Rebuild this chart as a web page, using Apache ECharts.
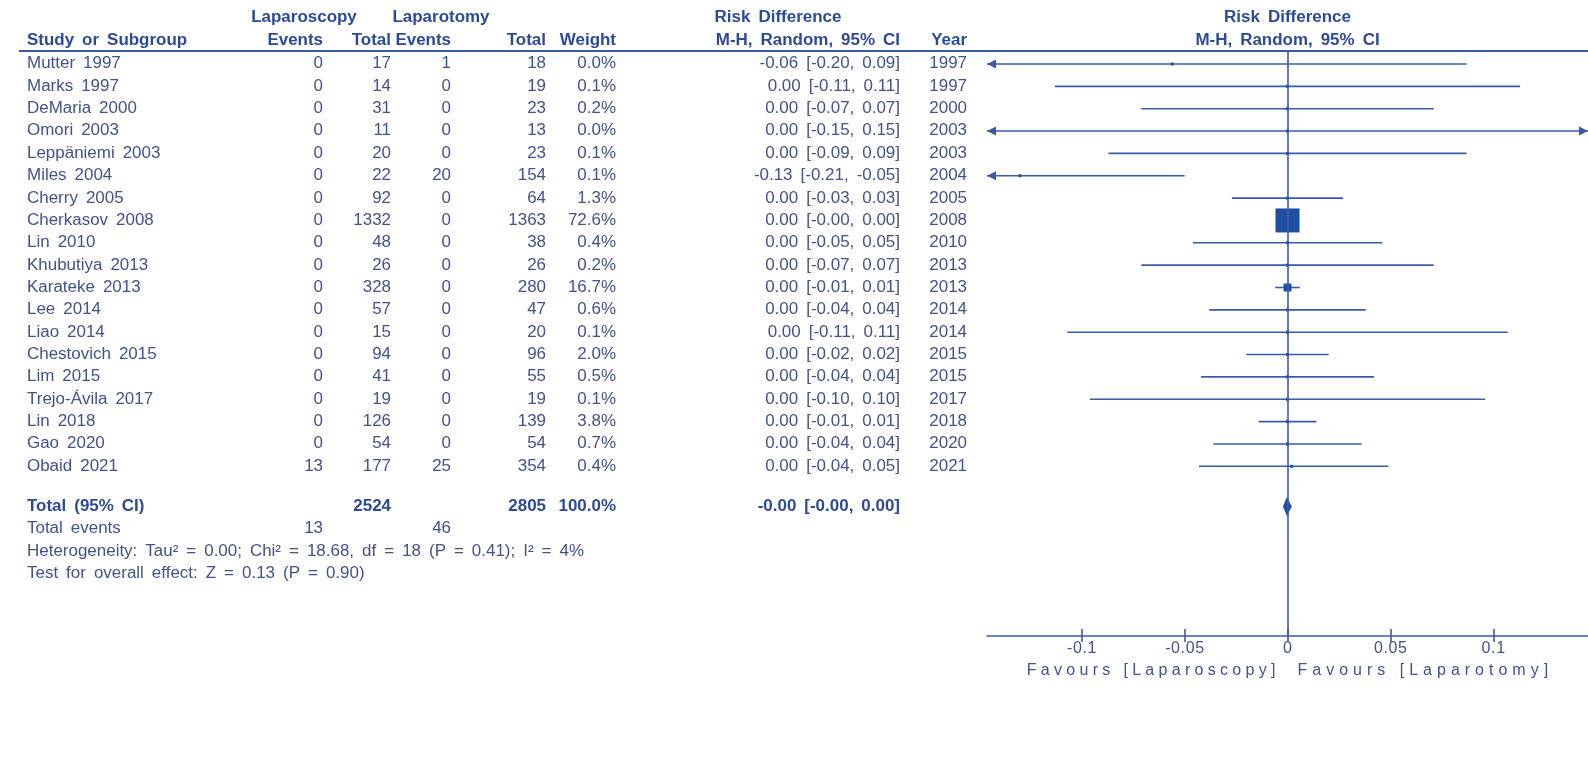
<!DOCTYPE html>
<html>
<head>
<meta charset="utf-8">
<script src="https://cdn.jsdelivr.net/npm/echarts@6/dist/echarts.min.js"></script>
<style>
  html, body { margin: 0; padding: 0; background: #ffffff; }
  #main { width: 1588px; height: 780px; }
</style>
</head>
<body>
<div id="main"></div>
<script>
// ---- Study data ----
const studies = ['Mutter 1997', 'Marks 1997', 'DeMaria 2000', 'Omori 2003', 'Leppäniemi 2003', 'Miles 2004',
  'Cherry 2005', 'Cherkasov 2008', 'Lin 2010', 'Khubutiya 2013', 'Karateke 2013', 'Lee 2014', 'Liao 2014',
  'Chestovich 2015', 'Lim 2015', 'Trejo-Ávila 2017', 'Lin 2018', 'Gao 2020', 'Obaid 2021'];
const years = [1997, 1997, 2000, 2003, 2003, 2004, 2005, 2008, 2010, 2013, 2013, 2014, 2014, 2015, 2015, 2017, 2018, 2020, 2021];
const lapEvents = [0, 0, 0, 0, 0, 0, 0, 0, 0, 0, 0, 0, 0, 0, 0, 0, 0, 0, 13];
const lapTotal = [17, 14, 31, 11, 20, 22, 92, 1332, 48, 26, 328, 57, 15, 94, 41, 19, 126, 54, 177];
const lapoEvents = [1, 0, 0, 0, 0, 20, 0, 0, 0, 0, 0, 0, 0, 0, 0, 0, 0, 0, 25];
const lapoTotal = [18, 19, 23, 13, 23, 154, 64, 1363, 38, 26, 280, 47, 20, 96, 55, 19, 139, 54, 354];
const weights = [0.0, 0.1, 0.2, 0.0, 0.1, 0.1, 1.3, 72.6, 0.4, 0.2, 16.7, 0.6, 0.1, 2.0, 0.5, 0.1, 3.8, 0.7, 0.4];
// risk difference and 95% CI bounds
const rd = [-0.056, 0, 0, 0, 0, -0.13, 0, 0, 0, 0, 0, 0, 0, 0, 0, 0, 0, 0, 0.002];
const rdLow = [-0.20, -0.113, -0.071, -0.15, -0.087, -0.21, -0.027, -0.002, -0.046, -0.071, -0.006, -0.038, -0.107, -0.02, -0.042, -0.096, -0.014, -0.036, -0.043];
const rdHigh = [0.087, 0.113, 0.071, 0.15, 0.087, -0.05, 0.027, 0.002, 0.046, 0.071, 0.006, 0.038, 0.107, 0.02, 0.042, 0.096, 0.014, 0.036, 0.049];

// ---- Pooled estimate ----
const pooled = { rd: -0.0003, low: -0.0022, high: 0.0021, weight: 100.0 };
const footnotes = [
  'Heterogeneity: Tau² = 0.00; Chi² = 18.68, df = 18 (P = 0.41); I² = 4%',
  'Test for overall effect: Z = 0.13 (P = 0.90)'
];

// ---- Axis ----
const tickValues = [-0.1, -0.05, 0, 0.05, 0.1];
const tickLabels = ['-0.1', '-0.05', '0', '0.05', '0.1'];
const favourLeft = 'Favours [Laparoscopy]';
const favourRight = 'Favours [Laparotomy]';

// ---- Layout ----
const W = 1588, H = 780;
const ROW0 = 64, ROW_H = 22.35;          // pixel y of first study row, row pitch
const PLOT_L = 987, PLOT_TOP = 51, AXIS_Y = 636;
const X_MIN = -0.146, X_MAX = 0.146;
const ROW = { head1: -2.08, head2: -1.04, rule: -0.58, total: 19.8, events: 20.8, het: 21.8, test: 22.8 };
const COL = { study: 27, lapEv: 323, lapTot: 391, lapoEv: 451, lapoTot: 546, weight: 616, ci: 900, year: 967,
  lapHead: 304, lapoHead: 441, rdHead: 778, plotMid: (PLOT_L + W) / 2 };

const FONT_FAMILY = '"Liberation Sans", Arial, sans-serif';
const FONT_SIZE = 16;
const TEXT_SX = 1.06;                      // slight horizontal stretch of the table type
const WORD_GAP = 8;                        // word spacing used in the table
const C_TEXT = '#42528c', C_BOLD = '#2c4a98', C_LINE = '#3a5aa8', C_MARK = '#1f4ea0';

const f2 = v => v.toFixed(2);
const ciText = (e, lo, hi) => `${f2(e)} [${f2(lo)}, ${f2(hi)}]`;
const sum = a => a.reduce((s, v) => s + v, 0);

// ---- Table cells ----
const cells = [];
function cell(text, x, row, align, bold) { cells.push({ text: String(text), x, row, align: align || 'right', bold: !!bold }); }

cell('Laparoscopy', COL.lapHead, ROW.head1, 'center', true);
cell('Laparotomy', COL.lapoHead, ROW.head1, 'center', true);
cell('Risk Difference', COL.rdHead, ROW.head1, 'center', true);
cell('Risk Difference', COL.plotMid, ROW.head1, 'center', true);
cell('Study or Subgroup', COL.study, ROW.head2, 'left', true);
cell('Events', COL.lapEv, ROW.head2, 'right', true);
cell('Total', COL.lapTot, ROW.head2, 'right', true);
cell('Events', COL.lapoEv, ROW.head2, 'right', true);
cell('Total', COL.lapoTot, ROW.head2, 'right', true);
cell('Weight', COL.weight, ROW.head2, 'right', true);
cell('M-H, Random, 95% CI', COL.ci, ROW.head2, 'right', true);
cell('Year', COL.year, ROW.head2, 'right', true);
cell('M-H, Random, 95% CI', COL.plotMid, ROW.head2, 'center', true);

studies.forEach((name, i) => {
  cell(name, COL.study, i, 'left');
  cell(lapEvents[i], COL.lapEv, i);
  cell(lapTotal[i], COL.lapTot, i);
  cell(lapoEvents[i], COL.lapoEv, i);
  cell(lapoTotal[i], COL.lapoTot, i);
  cell(weights[i].toFixed(1) + '%', COL.weight, i);
  cell(ciText(rd[i], rdLow[i], rdHigh[i]), COL.ci, i);
  cell(years[i], COL.year, i);
});

cell('Total (95% CI)', COL.study, ROW.total, 'left', true);
cell(sum(lapTotal), COL.lapTot, ROW.total, 'right', true);
cell(sum(lapoTotal), COL.lapoTot, ROW.total, 'right', true);
cell(pooled.weight.toFixed(1) + '%', COL.weight, ROW.total, 'right', true);
cell(ciText(pooled.rd, pooled.low, pooled.high), COL.ci, ROW.total, 'right', true);
cell('Total events', COL.study, ROW.events, 'left');
cell(sum(lapEvents), COL.lapEv, ROW.events);
cell(sum(lapoEvents), COL.lapoEv, ROW.events);
cell(footnotes[0], COL.study, ROW.het, 'left');
cell(footnotes[1], COL.study, ROW.test, 'left');

const font = bold => `${bold ? 'bold ' : ''}${FONT_SIZE}px ${FONT_FAMILY}`;
const measCtx = document.createElement('canvas').getContext('2d');

// lay out a run of pieces (words or letters) with a fixed gap between them
function runText(pieces, gap, sx, x, y, align, fnt, fill) {
  measCtx.font = fnt;
  const ws = pieces.map(s => measCtx.measureText(s).width * sx);
  const total = sum(ws) + gap * (pieces.length - 1);
  let cx = align === 'right' ? x - total : align === 'center' ? x - total / 2 : x;
  return pieces.map((s, i) => {
    const el = { type: 'text', x: cx, y, scaleX: sx,
      style: { text: s, font: fnt, fill, align: 'left', verticalAlign: 'middle' } };
    cx += ws[i] + gap;
    return el;
  });
}

const plotYMin = (PLOT_TOP - ROW0) / ROW_H;
const plotYMax = (AXIS_Y - ROW0) / ROW_H;

const forestData = studies.map((_, i) => [rd[i], i, rdLow[i], rdHigh[i], weights[i]]);

const chart = echarts.init(document.getElementById('main'), null, { renderer: 'canvas' });
chart.setOption({
  backgroundColor: '#ffffff',
  animation: false,
  grid: [
    { left: 0, top: 0, width: W, height: H, containLabel: false, outerBoundsMode: 'none' },
    { left: PLOT_L, right: 0, top: PLOT_TOP, bottom: H - AXIS_Y, containLabel: false, outerBoundsMode: 'none' }
  ],
  xAxis: [
    { gridIndex: 0, type: 'value', min: 0, max: W, show: false },
    { gridIndex: 1, type: 'value', min: X_MIN, max: X_MAX, position: 'bottom',
      axisLine: { show: true, onZero: false, lineStyle: { color: C_LINE, width: 1.6 } },
      axisTick: { show: true, inside: true, length: 7, customValues: tickValues, lineStyle: { color: C_LINE, width: 1.6 } },
      axisLabel: { show: false }, splitLine: { show: false } },
    { gridIndex: 1, type: 'value', min: X_MIN, max: X_MAX, position: 'bottom',
      axisLine: { show: false, onZero: false },
      axisTick: { show: true, inside: false, length: 6, customValues: tickValues, lineStyle: { color: C_LINE, width: 1.6 } },
      axisLabel: { show: false }, splitLine: { show: false } }
  ],
  yAxis: [
    { gridIndex: 0, type: 'value', inverse: true, min: -ROW0 / ROW_H, max: (H - ROW0) / ROW_H, show: false },
    { gridIndex: 1, type: 'value', inverse: true, min: plotYMin, max: plotYMax, show: false }
  ],
  series: [
    // table text and header rule
    {
      type: 'custom', xAxisIndex: 0, yAxisIndex: 0, silent: true,
      data: cells.map(c => [c.x, c.row]),
      renderItem: (params, api) => {
        const c = cells[params.dataIndex];
        const p = api.coord([c.x, c.row]);
        const kids = runText(c.text.split(' '), WORD_GAP, TEXT_SX, p[0], p[1], c.align, font(c.bold), c.bold ? C_BOLD : C_TEXT);
        if (params.dataIndex === 0) {
          const a = api.coord([COL.study - 8, ROW.rule]);
          const b = api.coord([W, ROW.rule]);
          kids.push({ type: 'line', shape: { x1: a[0], y1: a[1], x2: b[0], y2: b[1] },
            style: { stroke: C_LINE, lineWidth: 2 } });
        }
        return { type: 'group', children: kids };
      }
    },
    // study estimates with confidence intervals
    {
      type: 'custom', xAxisIndex: 1, yAxisIndex: 1, silent: true, clip: false,
      data: forestData,
      renderItem: (params, api) => {
        const est = api.value(0), row = api.value(1), lo = api.value(2), hi = api.value(3), w = api.value(4);
        const a = api.coord([Math.max(lo, X_MIN), row]);
        const b = api.coord([Math.min(hi, X_MAX), row]);
        const kids = [{ type: 'line', shape: { x1: a[0], y1: a[1], x2: b[0], y2: b[1] },
          style: { stroke: C_LINE, lineWidth: 1.6 } }];
        const AL = 9, AW = 4.5;
        if (lo < X_MIN) kids.push({ type: 'polygon', shape: { points: [[a[0], a[1]], [a[0] + AL, a[1] - AW], [a[0] + AL, a[1] + AW]] },
          style: { fill: C_LINE } });
        if (hi > X_MAX) kids.push({ type: 'polygon', shape: { points: [[b[0], b[1]], [b[0] - AL, b[1] - AW], [b[0] - AL, b[1] + AW]] },
          style: { fill: C_LINE } });
        const c = api.coord([est, row]);
        const s = Math.max(3, 24 * Math.pow(w / 72.6, 0.75));
        kids.push({ type: 'rect', shape: { x: c[0] - s / 2, y: c[1] - s / 2, width: s, height: s }, style: { fill: C_MARK } });
        return { type: 'group', children: kids };
      },
      markLine: {
        silent: true, symbol: 'none', label: { show: false },
        lineStyle: { color: C_LINE, width: 1.6, type: 'solid' },
        data: [{ xAxis: 0 }]
      }
    },
    // pooled diamond
    {
      type: 'custom', xAxisIndex: 1, yAxisIndex: 1, silent: true, clip: false,
      data: [[pooled.rd, ROW.total, pooled.low, pooled.high]],
      renderItem: (params, api) => {
        const row = api.value(1);
        const l = api.coord([api.value(2), row]), r = api.coord([api.value(3), row]), m = api.coord([api.value(0), row]);
        const HH = 9.5;
        return { type: 'polygon', shape: { points: [[l[0], l[1]], [m[0], m[1] - HH], [r[0], r[1]], [m[0], m[1] + HH]] },
          style: { fill: C_MARK } };
      }
    },
    // axis tick labels and letter-spaced direction captions
    {
      type: 'custom', xAxisIndex: 1, yAxisIndex: 1, silent: true, clip: false,
      data: tickValues.map((v, i) => [v, plotYMax, i]),
      renderItem: (params, api) => {
        const p = api.coord([api.value(0), api.value(1)]);
        const fnt = font(false);
        const kids = runText(Array.from(tickLabels[params.dataIndex]), 0.6, 1, p[0], p[1] + 13, 'center', fnt, C_TEXT);
        if (params.dataIndex === 2) {
          kids.push(...runText(Array.from(favourLeft), 4.3, 1, p[0] - 12, p[1] + 35, 'right', fnt, C_TEXT));
          kids.push(...runText(Array.from(favourRight), 5.0, 1, p[0] + 10, p[1] + 35, 'left', fnt, C_TEXT));
        }
        return { type: 'group', children: kids };
      }
    }
  ]
});
</script>
</body>
</html>
